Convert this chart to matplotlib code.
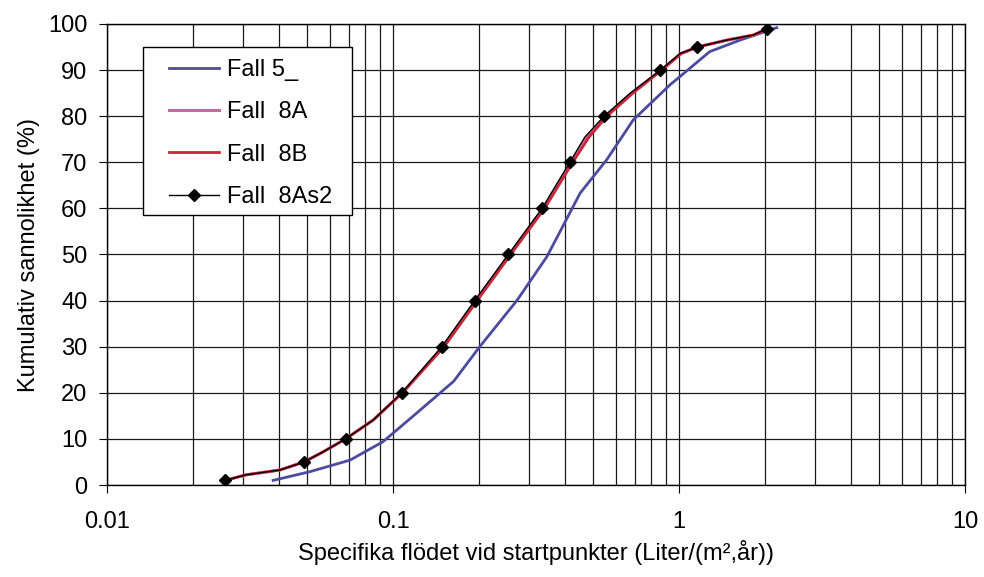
import matplotlib
matplotlib.use("Agg")
import matplotlib.pyplot as plt
from matplotlib.patches import Rectangle
from matplotlib.ticker import FixedLocator, LogLocator, NullFormatter

plt.rcParams['font.family'] = ['Liberation Sans', 'DejaVu Sans']

# ---- data ----
fall5_x = [0.0381, 0.0513, 0.0708, 0.0923, 0.121, 0.163, 0.201, 0.271, 0.345,
           0.384, 0.451, 0.558, 0.692, 0.93, 1.008, 1.28, 1.634, 2.196]
fall5_y = [1, 2.9, 5.4, 9.4, 15.6, 22.5, 30, 40, 49.5,
           55, 63.3, 70.5, 79.2, 86.8, 88.6, 94, 96.5, 99.2]

curve_y = [1, 2.2, 3.25, 5, 7.2, 10, 14.1, 20, 30, 40, 50, 60, 70, 75.5,
           80, 85, 90, 93.6, 95, 96.5, 97.6, 99]
fall8A_x = [0.0259, 0.0306, 0.0402, 0.0489, 0.057, 0.0683, 0.0853, 0.1077, 0.150,
            0.195, 0.256, 0.336, 0.421, 0.478, 0.555, 0.683, 0.866, 1.015,
            1.158, 1.47, 1.82, 2.04]
fall8B_x = [0.0259, 0.0306, 0.0402, 0.0489, 0.057, 0.0683, 0.0853, 0.108, 0.151,
            0.197, 0.258, 0.339, 0.425, 0.485, 0.56, 0.69, 0.87, 1.02,
            1.16, 1.47, 1.82, 2.05]
fall8As2_x = [0.0259, 0.0306, 0.0402, 0.0489, 0.057, 0.0683, 0.0853, 0.1074, 0.148,
              0.193, 0.253, 0.332, 0.415, 0.469, 0.547, 0.675, 0.861, 1.008,
              1.156, 1.468, 1.82, 2.03]
marker_levels = [1, 5, 10, 20, 30, 40, 50, 60, 70, 80, 90, 95, 99]

labels = ["Fall 5_", "Fall  8A", "Fall  8B", "Fall  8As2"]
x_ticks = [0.01, 0.1, 1, 10]
x_ticklabels = ["0.01", "0.1", "1", "10"]
y_ticks = list(range(0, 101, 10))

FS = 17
W, H = 984, 577

# ---- figure ----
fig = plt.figure(figsize=(W/100, H/100), dpi=100)
ax = fig.add_axes([107/W, 1 - 485/H, (965-107)/W, (485-24)/H])

ax.set_xscale('log')
ax.set_xlim(0.01, 10)
ax.set_ylim(0, 100)

mark_idx = [i for i, v in enumerate(curve_y) if v in marker_levels]

ax.plot(fall5_x, fall5_y, color='#4B4B9F', lw=2.0, label=labels[0], zorder=3)
ax.plot(fall8A_x, curve_y, color='#C86AA0', lw=2.2, label=labels[1], zorder=4)
ax.plot(fall8B_x, curve_y, color='#C82838', lw=2.0, label=labels[2], zorder=5)
ax.plot(fall8As2_x, curve_y, color='black', lw=1.0, marker='D', markersize=6,
        markevery=mark_idx, label=labels[3], zorder=6)

# grid
ax.xaxis.set_major_locator(FixedLocator(x_ticks))
ax.set_xticklabels(x_ticklabels)
ax.xaxis.set_minor_locator(LogLocator(base=10, subs=range(2, 10)))
ax.xaxis.set_minor_formatter(NullFormatter())
ax.set_yticks(y_ticks)
ax.grid(True, which='major', color='#1a1a1a', lw=0.9, zorder=1)
ax.grid(True, which='minor', axis='x', color='#1a1a1a', lw=0.9, zorder=1)
ax.set_axisbelow(True)

for s in ax.spines.values():
    s.set_color('black')
    s.set_linewidth(1.0)

ax.tick_params(axis='x', which='major', direction='out', length=6, pad=13,
               labelsize=FS, color='black')
ax.tick_params(axis='x', which='minor', direction='out', length=0)
ax.tick_params(axis='y', which='major', direction='out', length=6, pad=8,
               labelsize=FS, color='black')

ax.set_xlabel("Specifika flödet vid startpunkter (Liter/(m²,år))", fontsize=FS,
              labelpad=5)
ax.set_ylabel("Kumulativ sannolikhet (%)", fontsize=FS, labelpad=6)

# legend frame (drawn separately so the inner padding matches the reference)
frame = Rectangle((143/W, 1 - 215/H), (352-143)/W, (215-47)/H,
                  transform=fig.transFigure, facecolor='white',
                  edgecolor='black', lw=1.0, zorder=9, clip_on=False)
ax.add_patch(frame)

leg = ax.legend(loc='upper left', bbox_to_anchor=(169/W, 1 - 59/H),
                bbox_transform=fig.transFigure, fontsize=FS, frameon=False,
                handlelength=2.12, handletextpad=0.34, labelspacing=0.86,
                borderpad=0, borderaxespad=0)
leg.set_zorder(10)

fig.savefig("out.png", dpi=100)
